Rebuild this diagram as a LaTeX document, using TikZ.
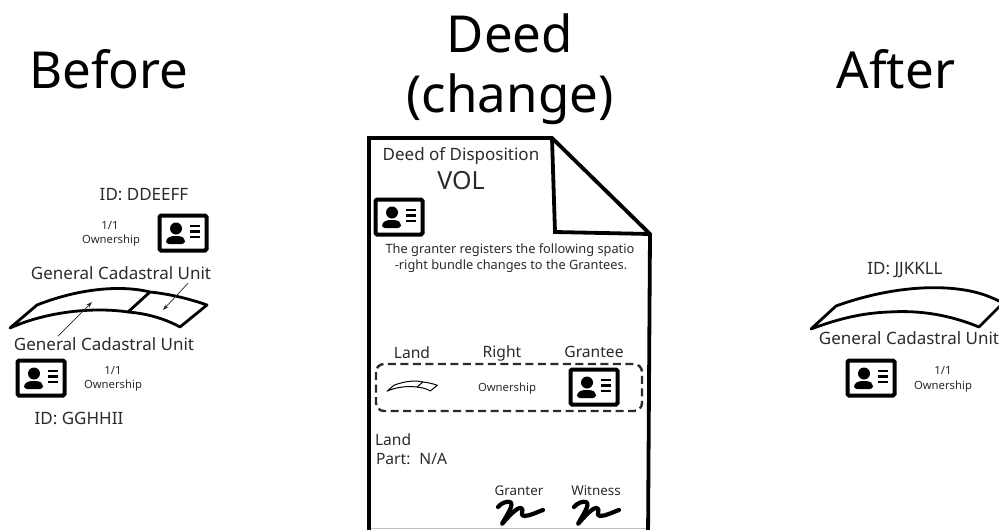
\documentclass[tikz,border=0pt]{standalone}
\usepackage{fontspec}
\setmainfont{Noto Sans}
\usetikzlibrary{arrows.meta}
\definecolor{ink}{gray}{0.17}
\tikzset{
  x=1pt,y=-1pt,
  lab/.style={anchor=base,inner sep=0pt,outer sep=0pt,text=ink,align=center},
  title/.style={lab,text=black,font=\fontsize{51}{51}\selectfont},
  mid/.style={lab,font=\fontsize{17}{17}\selectfont},
  head/.style={lab,font=\fontsize{15.6}{16}\selectfont},
  small/.style={lab,font=\fontsize{12.8}{13}\selectfont},
  sign/.style={lab,font=\fontsize{13.4}{14}\selectfont},
  tiny/.style={lab,font=\fontsize{11.3}{12}\selectfont},
  thinarrow/.style={draw=ink,line width=0.7pt,-{Stealth[length=6pt,width=4pt]}},
  idcard/.pic={
    \draw[line width=4pt,rounded corners=1.5pt,black] (-23.5,-17.5) rectangle (23.5,17.5);
    \fill[black] (-7,-4.5) circle (6);
    \fill[black,rounded corners=3pt] (-17,11) -- (-17,6) -- (-12,3) -- (-2,3) -- (2,6) -- (2,11) -- cycle;
    \draw[line width=2.2pt,black] (7,-7) -- (17,-7) (7,-1.5) -- (17,-1.5) (7,4) -- (17,4);
  },
  landpart/.style={line width=#1,black,line join=round,line cap=round},
}
\newcommand{\landoutline}[1]{%
  \draw[landpart=#1] (10,328) -- (37,305) .. controls (80,288) and (122,285) .. (150,292)
     .. controls (170,294) and (190,299) .. (207,305) -- (180,327)
     .. controls (160,316) and (140,313) .. (128,312)
     .. controls (95,307) and (48,311) .. (10,328) -- cycle;
  \draw[landpart=#1] (150,292) -- (128,312);
}
\newcommand{\signature}{%
  \draw[line width=4.2pt,black,line cap=round,line join=round]
    (0,6) .. controls (3,2) and (9,0) .. (12,1)
    .. controls (17,3) and (8,15) .. (4,23)
    .. controls (10,16) and (19,6) .. (23,7)
    .. controls (27,8) and (21,15) .. (26,15)
    .. controls (32,15) and (39,11) .. (45,9);
}
\begin{document}
\begin{tikzpicture}
\useasboundingbox (0,0) rectangle (999,530);
\clip (0,0) rectangle (999,530);
\fill[white] (0,0) rectangle (999,530);

% titles
\node[title] (tBefore) at (109,88) {Before};
\node[title] (tDeed) at (510,52) {Deed};
\node[title] (tChange) at (510,112) {(change)};
\node[title] (tAfter) at (896,88) {After};

% before
\node[mid] (idA) at (144,200) {ID: DDEEFF};
\node[tiny] (fracA) at (110,229) {1/1};
\node[tiny] (ownA) at (111,243) {Ownership};
\pic at (183,233) {idcard};
\node[mid] (gcuA) at (121,279) {General Cadastral Unit};
\landoutline{2.8pt}
\coordinate (landA) at (163,310);
\coordinate (landB) at (92,302);
\node[mid] (gcuB) at (104,350) {General Cadastral Unit};
\draw[thinarrow] (gcuA.south east) ++(-23,4) coordinate (startA) -- (landA);
\draw[thinarrow] (gcuB.north west) ++(44,-1) coordinate (startB) -- (landB);
\pic at (41,378) {idcard};
\node[tiny] (fracB) at (113,374) {1/1};
\node[tiny] (ownB) at (113,388) {Ownership};
\node[mid] (idB) at (79,424) {ID: GGHHII};

% deed
\draw[line width=3.8pt,black,line join=miter]
  (369,540) -- (369,138) -- (552,138) -- (650,234) -- (648,540);
\draw[line width=3.8pt,black,line join=miter] (552,138) -- (555,232) -- (650,234);
\draw[line width=1pt,gray!50] (371,528.5) -- (646,528.5);
\node[mid] (deedOf) at (461,160) {Deed of Disposition};
\node[lab,font=\fontsize{25}{25}\selectfont] (vol) at (461,189) {VOL};
\pic at (399,217) {idcard};
\node[small] (line1) at (510,253) {The granter registers the following spatio};
\node[small] (line2) at (511,269) {-right bundle changes to the Grantees.};
\node[head] (hLand) at (412,358) {Land};
\node[head] (hRight) at (502,357) {Right};
\node[head] (hGrantee) at (594,357) {Grantee};
\draw[line width=2.4pt,ink,dash pattern=on 8pt off 4.5pt,rounded corners=8pt] (376,364) rectangle (642,411);
\begin{scope}[shift={(384.5,307.5)},scale=0.255]
\landoutline{1pt}
\end{scope}
\node[tiny] (ownC) at (507,391) {Ownership};
\pic at (594,387) {idcard};
\node[head,anchor=base west] (lLand) at (375,445) {Land};
\node[head,anchor=base west] (lPart) at (376,464) {Part:\hspace{9pt}N/A};
\node[sign] (granter) at (519,495) {Granter};
\node[sign] (witness) at (596,495) {Witness};
\begin{scope}[shift={(498,501)}]\signature\end{scope}
\begin{scope}[shift={(574,501)}]\signature\end{scope}

% after
\node[mid] (idC) at (905,274) {ID: JJKKLL};
\draw[landpart=2.8pt] (811,329) -- (836,306) .. controls (880,290) and (930,283) .. (970,291)
  .. controls (985,294) and (995,299) .. (1003,303) -- (979,327)
  .. controls (950,315) and (920,310) .. (889,312)
  .. controls (860,313) and (835,320) .. (811,329) -- cycle;
\node[mid] (gcuC) at (909,344) {General Cadastral Unit};
\pic at (871,378) {idcard};
\node[tiny] (fracC) at (943,374) {1/1};
\node[tiny] (ownC2) at (943,389) {Ownership};
\end{tikzpicture}
\end{document}
